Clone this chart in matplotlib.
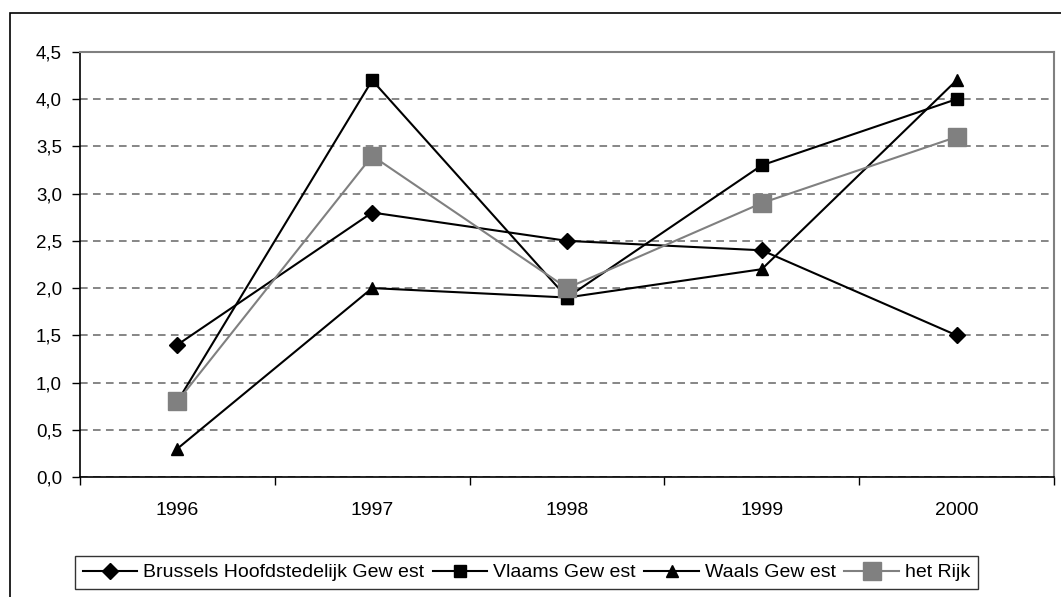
import matplotlib.pyplot as plt
from matplotlib.patches import Rectangle
from matplotlib.ticker import FuncFormatter, MultipleLocator
import numpy as np

plt.rcParams["font.family"] = ["Liberation Sans", "DejaVu Sans"]

years = ["1996", "1997", "1998", "1999", "2000"]
brussels = [1.4, 2.8, 2.5, 2.4, 1.5]
vlaams = [0.8, 4.2, 1.9, 3.3, 4.0]
waals = [0.3, 2.0, 1.9, 2.2, 4.2]
rijk = [0.8, 3.4, 2.0, 2.9, 3.6]
labels = ["Brussels Hoofdstedelijk Gew est", "Vlaams Gew est", "Waals Gew est", "het Rijk"]

fig = plt.figure(figsize=(10.61, 5.97), dpi=100)
ax = fig.add_axes([0.0754, 0.201, 0.918, 0.712])

# outer chart frame, runs past the right and bottom edge
fig.patches.append(Rectangle((10 / 1061, -0.02), 1.1, 1 - 13 / 597 + 0.02,
                             transform=fig.transFigure, fill=False,
                             edgecolor="black", linewidth=1.2, zorder=0))

x = np.arange(len(years))
lw = 1.5
ax.plot(x, brussels, color="black", lw=lw, marker="D", ms=8, label=labels[0], zorder=3)
ax.plot(x, vlaams, color="black", lw=lw, marker="s", ms=8, label=labels[1], zorder=3)
ax.plot(x, waals, color="black", lw=lw, marker="^", ms=9, label=labels[2], zorder=3)
ax.plot(x, rijk, color="#808080", lw=lw, marker="s", ms=13, label=labels[3], zorder=4)

ax.set_xlim(-0.5, len(years) - 0.5)
ax.set_ylim(0, 4.5)
ax.yaxis.set_major_locator(MultipleLocator(0.5))
ax.yaxis.set_major_formatter(FuncFormatter(lambda v, p: f"{v:.1f}".replace(".", ",")))
ax.yaxis.grid(True, linestyle=(0, (5, 3.5)), color="#666666", linewidth=1.1)
ax.set_axisbelow(True)

ax.set_xticks(x)
ax.set_xticklabels(years)
ax.set_xticks(np.arange(-0.5, len(years)), minor=True)
ax.tick_params(axis="x", which="major", length=0, pad=18, labelsize=14)
ax.tick_params(axis="x", which="minor", length=6, width=1, color="black")
ax.tick_params(axis="y", length=6, width=1, labelsize=13.5, pad=7)

for side in ["top", "right"]:
    ax.spines[side].set_color("#808080")
    ax.spines[side].set_linewidth(1.5)
for side in ["left", "bottom"]:
    ax.spines[side].set_color("black")
    ax.spines[side].set_linewidth(1.2)

leg = fig.legend(loc="center", bbox_to_anchor=(0.496, 0.041), ncol=4,
                 fontsize=14, frameon=True, fancybox=False, edgecolor="black",
                 handlelength=2.8, handletextpad=0.3, columnspacing=0.45,
                 borderpad=0.4, borderaxespad=0)
leg.get_frame().set_linewidth(1.0)

fig.savefig("out.png", dpi=100)
